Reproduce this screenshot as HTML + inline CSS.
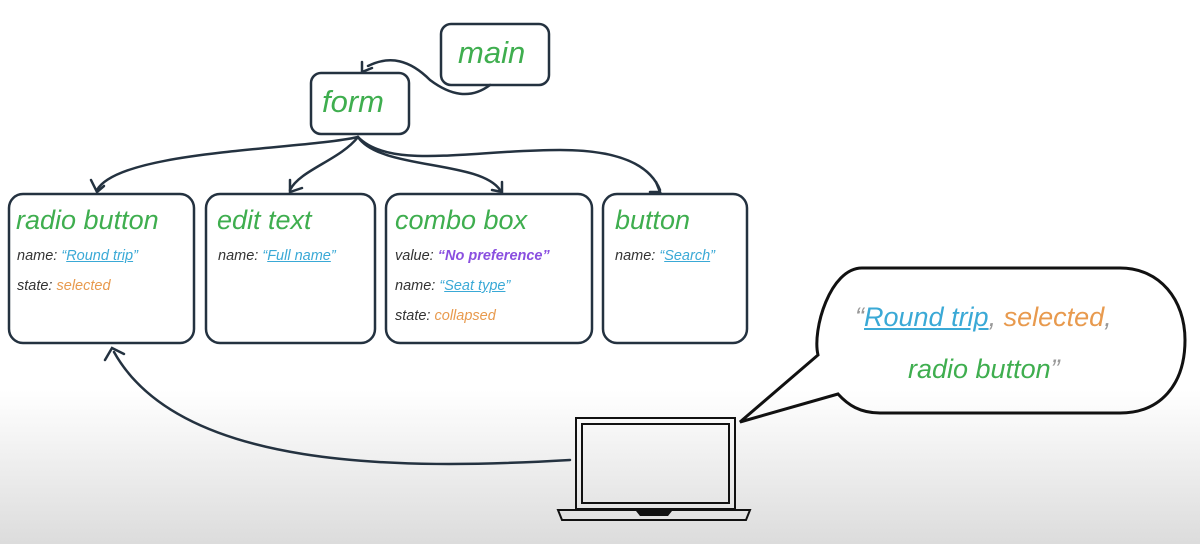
<!DOCTYPE html>
<html><head><meta charset="utf-8"><style>
body{margin:0;width:1200px;height:544px;overflow:hidden;background:linear-gradient(#fff 0,#fff 390px,#dcdcdc 544px);font-family:"Liberation Sans",sans-serif;}
svg{position:absolute;left:0;top:0}
.g{color:#3fae4f}.b{color:#3aa9d6;text-decoration:underline}.o{color:#e89a4e}.p{color:#8a4fe0;font-weight:bold}
.h{font-size:27px;color:#3fae4f;font-style:italic;position:absolute;white-space:nowrap}
.l{font-size:14.5px;font-style:italic;position:absolute;color:#333;white-space:nowrap}
</style></head><body>
<svg width="1200" height="544" fill="none" stroke="#243240" stroke-width="2.5" stroke-linecap="round">
<rect x="441" y="24" width="108" height="61" rx="10"/>
<rect x="311" y="73" width="98" height="61" rx="10"/>
<rect x="9" y="194" width="185" height="149" rx="14"/>
<rect x="206" y="194" width="169" height="149" rx="14"/>
<rect x="386" y="194" width="206" height="149" rx="14"/>
<rect x="603" y="194" width="144" height="149" rx="14"/>
<path d="M490 85 C470 100,450 95,430 80 C410 60,390 55,368 66"/>
<path d="M362 62 L362 72 L372 68"/>
<path d="M358 137 C300 150,120 150,97 190"/>
<path d="M91 180 L97 192 L104 186"/>
<path d="M358 137 C340 160,300 170,290 190"/>
<path d="M290 180 L290 192 L302 188"/>
<path d="M358 137 C380 170,480 160,500 190"/>
<path d="M502 182 L502 192 L492 190"/>
<path d="M358 137 C390 170,470 150,560 150 C620 150,650 165,660 190"/>
<path d="M656 182 L660 192 L650 192"/>
<path d="M570 460 C400 470,180 470,114 352"/>
<path d="M105 360 L112 348 L124 354"/>
<path d="M862 268 L1120 268 C1160 268,1185 300,1185 340 C1185 385,1160 413,1120 413 L880 413 C860 413,848 405,838 394 L740 422 L818 355 C812 330,830 268,862 268Z" stroke="#111" stroke-width="3"/>
<rect x="576" y="418" width="159" height="91" stroke="#111" stroke-width="2"/>
<rect x="582" y="424" width="147" height="79" stroke="#111" stroke-width="2"/>
<path d="M558 510 L750 510 L746 520 L562 520Z" stroke="#111" stroke-width="2"/>
<path d="M636 511 L672 511 L668 516 L640 516Z" fill="#111" stroke="none"/>
</svg>
<div class="h" style="left:458px;top:35px;font-size:31px">main</div>
<div class="h" style="left:322px;top:84px;font-size:31px">form</div>
<div class="h" style="left:16px;top:205px">radio button</div>
<div class="l" style="left:17px;top:248px">name: <span style="color:#3aa9d6">“<span class="b">Round trip</span>”</span></div>
<div class="l" style="left:17px;top:278px">state: <span class="o">selected</span></div>
<div class="h" style="left:217px;top:205px">edit text</div>
<div class="l" style="left:218px;top:248px">name: <span style="color:#3aa9d6">“<span class="b">Full name</span>”</span></div>
<div class="h" style="left:395px;top:205px">combo box</div>
<div class="l" style="left:395px;top:248px">value: <span class="p">“No preference”</span></div>
<div class="l" style="left:395px;top:278px">name: <span style="color:#3aa9d6">“<span class="b">Seat type</span>”</span></div>
<div class="l" style="left:395px;top:308px">state: <span class="o">collapsed</span></div>
<div class="h" style="left:615px;top:205px">button</div>
<div class="l" style="left:615px;top:248px">name: <span style="color:#3aa9d6">“<span class="b">Search</span>”</span></div>
<div class="l" style="left:855px;top:302px;font-size:27px;color:#999">“<span class="b">Round trip</span>, <span class="o">selected</span>,</div>
<div class="l" style="left:908px;top:354px;font-size:27px;color:#999"><span class="g">radio button</span>”</div>
</body></html>
